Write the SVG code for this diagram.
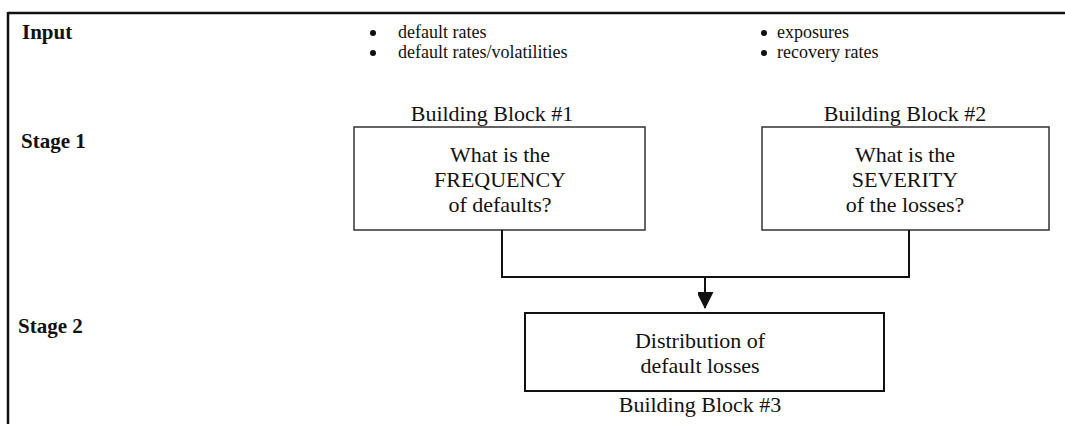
<svg xmlns="http://www.w3.org/2000/svg" width="1065" height="424" viewBox="0 0 1065 424">
<style>
text{font-family:"Liberation Serif","Times New Roman",serif;fill:#111}
.lbl{font-weight:bold;font-size:21px}
.t{font-size:18px}
.bt{font-size:22px;text-anchor:middle}
.box{fill:#fff;stroke:#333;stroke-width:1.5}
.con{fill:none;stroke:#111;stroke-width:2}
</style>
<defs>
<marker id="ah" markerWidth="17" markerHeight="16" refX="16" refY="8.5" orient="auto" markerUnits="userSpaceOnUse">
<path d="M0,0 L17,8.5 L0,17 Z" fill="#111"/>
</marker>
</defs>
<g id="frame">
<line x1="8" y1="13" x2="1065" y2="13" stroke="#111" stroke-width="2.5"/>
<line x1="8" y1="12" x2="8" y2="424" stroke="#111" stroke-width="2.5"/>
</g>
<g id="labels">
<text class="lbl" x="22" y="39">Input</text>
<text class="lbl" x="21" y="148">Stage 1</text>
<text class="lbl" x="18" y="333">Stage 2</text>
</g>
<g id="inputs">
<circle cx="373" cy="33" r="3" fill="#111"/>
<text class="t" x="398" y="38">default rates</text>
<circle cx="373" cy="53" r="3" fill="#111"/>
<text class="t" x="398" y="58">default rates/volatilities</text>
<circle cx="764" cy="33" r="3" fill="#111"/>
<text class="t" x="777" y="38">exposures</text>
<circle cx="764" cy="53" r="3" fill="#111"/>
<text class="t" x="777" y="58">recovery rates</text>
</g>
<g id="block1">
<text class="bt" x="492" y="121">Building Block #1</text>
<rect class="box" x="354" y="127" width="291" height="103"/>
<text class="bt" x="500" y="162">What is the</text>
<text class="bt" x="500" y="187">FREQUENCY</text>
<text class="bt" x="500" y="212">of defaults?</text>
</g>
<g id="block2">
<text class="bt" x="905" y="121">Building Block #2</text>
<rect class="box" x="762" y="127" width="287" height="103"/>
<text class="bt" x="905" y="162">What is the</text>
<text class="bt" x="905" y="187">SEVERITY</text>
<text class="bt" x="905" y="212">of the losses?</text>
</g>
<g id="block3">
<rect class="box" x="525" y="313" width="359" height="78" style="stroke:#111;stroke-width:2"/>
<text class="bt" x="700" y="348">Distribution of</text>
<text class="bt" x="700" y="373">default losses</text>
<text class="bt" x="700" y="412">Building Block #3</text>
</g>
<g id="connectors">
<polyline class="con" points="502,230 502,277 909,277 909,230"/>
<line class="con" x1="705" y1="277" x2="705" y2="308" marker-end="url(#ah)"/>
</g>
</svg>
